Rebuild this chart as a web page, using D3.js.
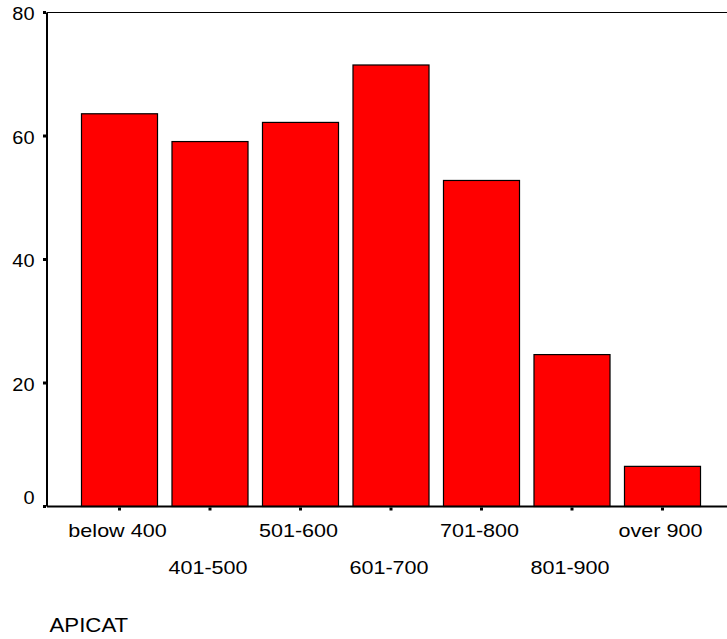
<!DOCTYPE html>
<html><head><meta charset="utf-8">
<script src="https://cdn.jsdelivr.net/npm/d3@7"></script>
<style>body{margin:0;background:#fff;} svg{display:block;font-family:Arial,"Liberation Sans",sans-serif;}</style>
</head><body>
<script>
const categories = ["below 400","401-500","501-600","601-700","701-800","801-900","over 900"];
const values = [63.6, 59.1, 62.2, 71.5, 52.8, 24.6, 6.5];
const yTicks = [0, 20, 40, 60, 80];
const axisTitle = "APICAT";

const W = 727, H = 639;
const svg = d3.select("body").append("svg").attr("width", W).attr("height", H);
const x0 = 47, yTop = 12.5, yBase = 506.5;
const x = d3.scaleBand().domain(categories).range([73.75, 707.25]).paddingInner(0.16).paddingOuter(0.08);
const y = d3.scaleLinear().domain([0, 80]).range([yBase, yTop]);

svg.append("g").selectAll("rect").data(values).join("rect")
  .attr("x", (d,i) => x(categories[i]) + 0.5)
  .attr("y", d => y(d))
  .attr("width", x.bandwidth())
  .attr("height", d => yBase - y(d))
  .attr("fill", "#ff0000").attr("stroke", "#000").attr("stroke-width", 1.2);

// frame lines
svg.append("line").attr("x1", x0).attr("x2", W).attr("y1", yTop).attr("y2", yTop).attr("stroke", "#000").attr("stroke-width", 1.2);
svg.append("line").attr("x1", x0).attr("x2", x0).attr("y1", yTop).attr("y2", yBase).attr("stroke", "#000").attr("stroke-width", 2);
svg.append("line").attr("x1", x0).attr("x2", W).attr("y1", yBase).attr("y2", yBase).attr("stroke", "#000").attr("stroke-width", 2);

// y ticks
const yg = svg.append("g");
yg.selectAll("rect").data(yTicks).join("rect")
  .attr("x", 43).attr("y", d => y(d) - 1.5).attr("width", 3).attr("height", 3).attr("fill", "#000");
yg.selectAll("text").data(yTicks).join("text")
  .attr("transform", d => `translate(34.5,${Math.min(y(d) + 1, yBase - 9)}) scale(1.05,1)`)
  .attr("dy", "0.35em").attr("text-anchor", "end")
  .attr("font-size", 19).attr("fill", "#000").text(d => d);

// x ticks
const xg = svg.append("g");
xg.selectAll("rect").data(categories).join("rect")
  .attr("x", d => x(d) + x.bandwidth()/2 - 1).attr("y", yBase + 1).attr("width", 3).attr("height", 3).attr("fill", "#000");
xg.selectAll("text").data(categories).join("text")
  .attr("transform", (d,i) => `translate(${x(d) + x.bandwidth()/2 - 1.5},${i % 2 === 0 ? 536.5 : 573.5}) scale(1.16,1)`)
  .attr("text-anchor", "middle").attr("font-size", 18.6).attr("fill", "#000").text(d => d);

svg.append("text").attr("transform", "translate(49.5,632.3) scale(1.06,1)")
  .attr("font-size", 21).attr("fill", "#000").text(axisTitle);
</script>
</body></html>
